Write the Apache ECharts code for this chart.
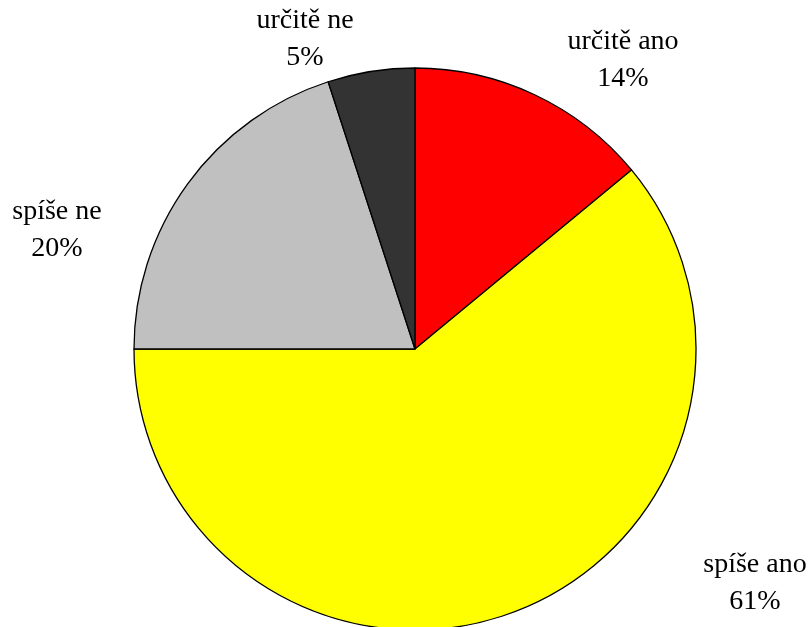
<!DOCTYPE html>
<html lang="cs">
<head>
    <meta charset="UTF-8">
    <script src="https://cdn.jsdelivr.net/npm/echarts@6/dist/echarts.min.js"></script>
    <style>
        html, body { margin: 0; padding: 0; background: #fff; }
        #chart { width: 811px; height: 627px; }
    </style>
</head>
<body>
    <div id="chart"></div>
    <script type="text/javascript">
        var categories = ['určitě ano', 'spíše ano', 'spíše ne', 'určitě ne'];
        var values = [14, 61, 20, 5];
        var colors = ['#ff0000', '#ffff00', '#c0c0c0', '#333333'];
        // label anchor points (centre of the two-line label)
        var labelPos = [[623, 60], [755, 583], [57, 230], [305, 39]];

        var chart = echarts.init(document.getElementById('chart'));
        var option = {
            animation: false,
            series: [{
                type: 'pie',
                center: [415, 349],
                radius: 281,
                startAngle: 90,
                clockwise: true,
                data: categories.map(function (c, i) {
                    return { name: c, value: values[i], itemStyle: { color: colors[i] } };
                }),
                itemStyle: { borderColor: '#000', borderWidth: 1.3 },
                label: {
                    show: true,
                    position: 'outside',
                    formatter: '{b}\n{d}%',
                    fontFamily: 'Liberation Serif',
                    fontSize: 28,
                    lineHeight: 37,
                    color: '#000',
                    align: 'center'
                },
                labelLine: { show: false },
                labelLayout: function (params) {
                    var p = labelPos[params.dataIndex];
                    return { x: p[0], y: p[1], align: 'center', verticalAlign: 'middle' };
                },
                emphasis: { disabled: true }
            }]
        };
        chart.setOption(option);
    </script>
</body>
</html>
